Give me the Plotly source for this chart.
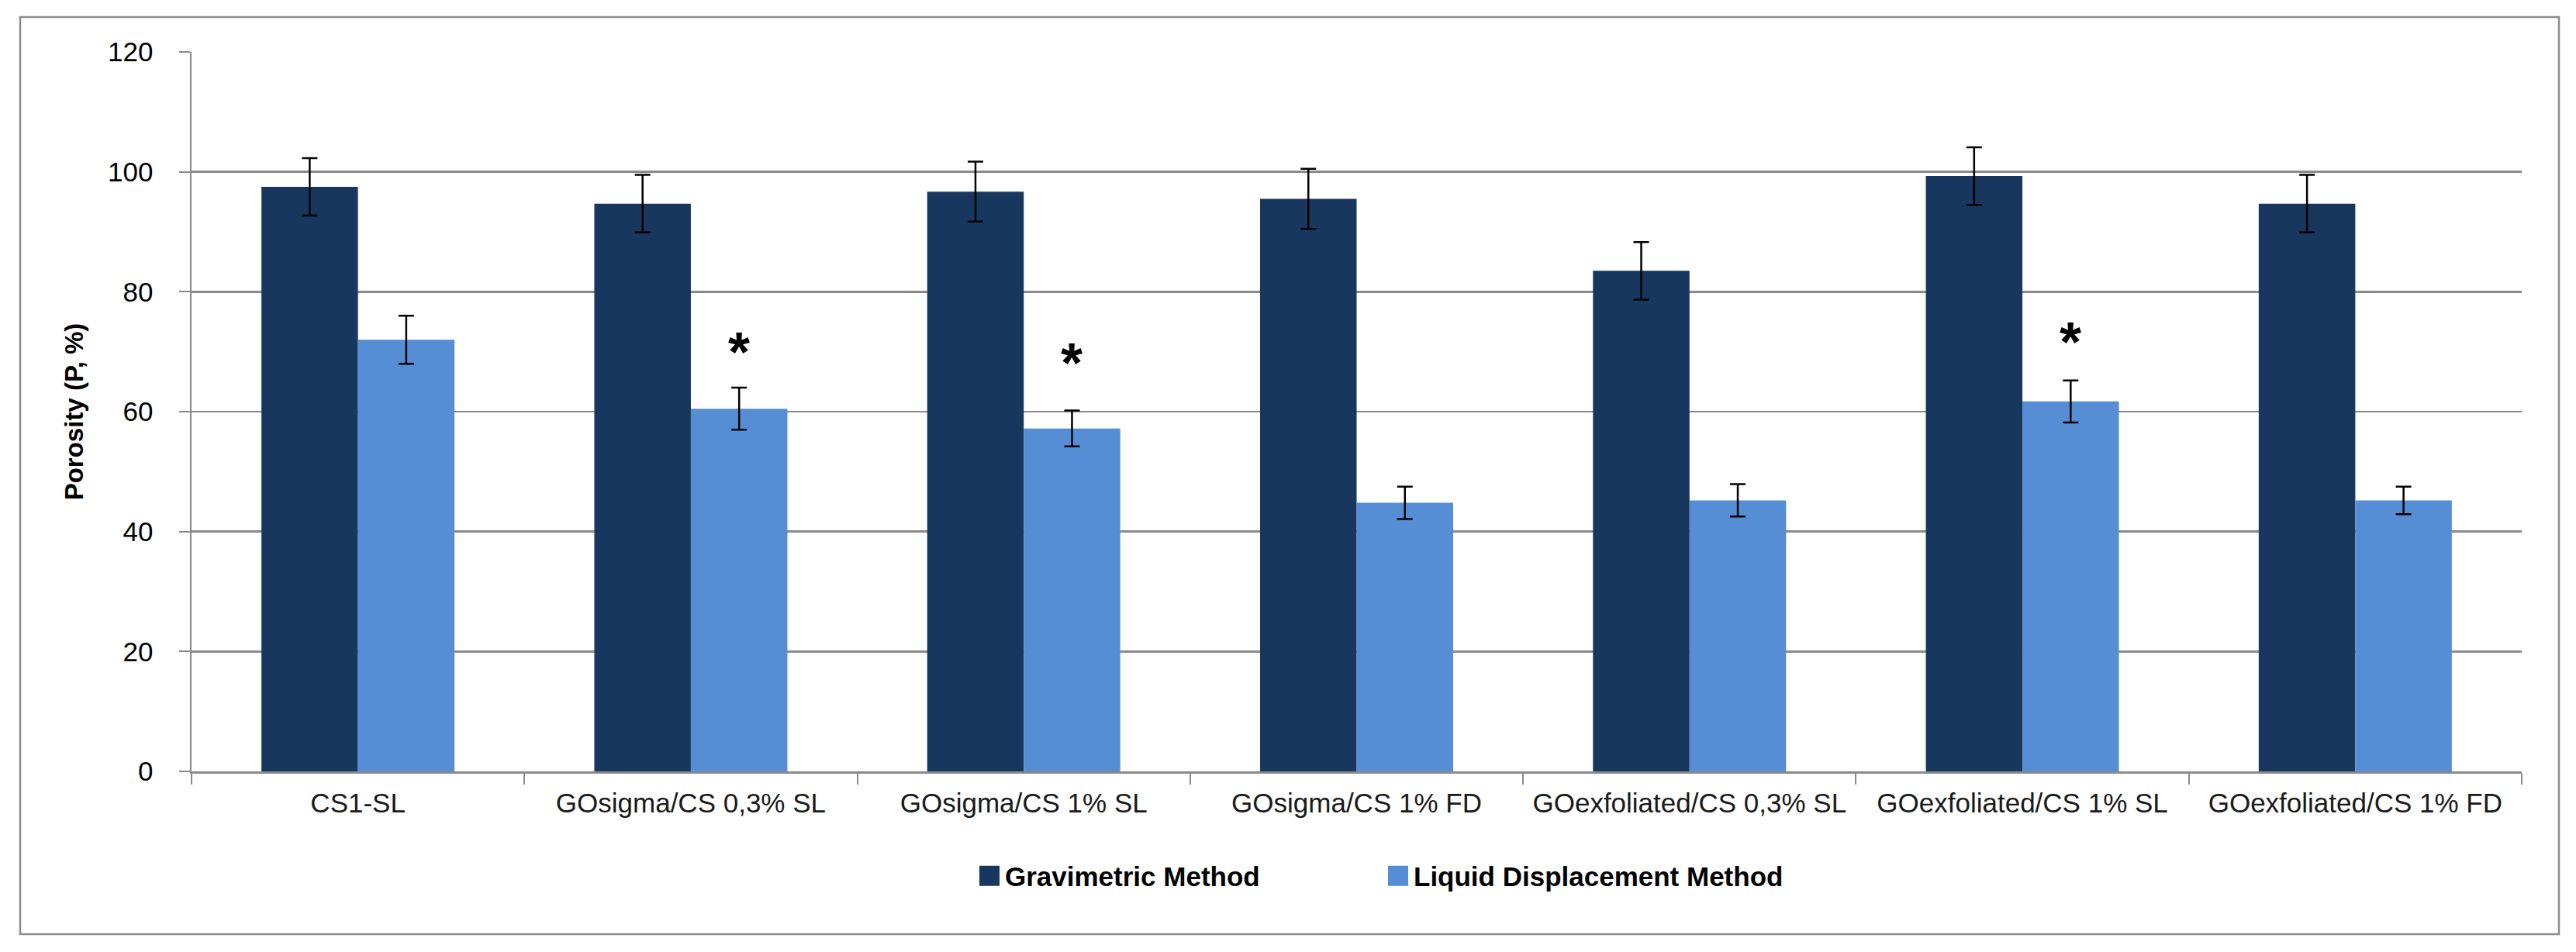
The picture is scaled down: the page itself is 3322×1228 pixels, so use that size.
import plotly.graph_objects as go

categories = ["CS1-SL", "GOsigma/CS 0,3% SL", "GOsigma/CS 1% SL", "GOsigma/CS 1% FD",
              "GOexfoliated/CS 0,3% SL", "GOexfoliated/CS 1% SL", "GOexfoliated/CS 1% FD"]
grav_values = [97.5, 94.7, 96.7, 95.5, 83.5, 99.3, 94.7]
grav_errors = [4.8, 4.8, 5.0, 5.0, 4.8, 4.8, 4.8]
liquid_values = [72.0, 60.5, 57.2, 44.8, 45.2, 61.7, 45.2]
liquid_errors = [4.0, 3.5, 3.0, 2.7, 2.7, 3.5, 2.3]
# height (in % units) of the significance asterisk above the liquid-displacement bars
star_levels = [None, 69.9, 68.2, None, None, 71.7, None]
y_ticks = [0, 20, 40, 60, 80, 100, 120]

W, H = 3322, 1228
ML, MR, MT, MB = 247, 70, 67, 233
BARGAP = 0.42
plot_w = W - ML - MR
plot_h = H - MT - MB
bar_px = plot_w / len(categories) * (1 - BARGAP) / 2

DARK = "#17375E"
LIGHT = "#558ED5"
GRID = "#8A8A8A"
FONT = "Liberation Sans"

fig = go.Figure()
fig.add_trace(go.Bar(
    x=categories, y=grav_values, name="<b>Gravimetric Method</b>",
    marker=dict(color=DARK, line=dict(width=0)),
    error_y=dict(type="data", array=grav_errors, color="black", thickness=2.5, width=10),
))
fig.add_trace(go.Bar(
    x=categories, y=liquid_values, name="<b>Liquid Displacement Method</b>",
    marker=dict(color=LIGHT, line=dict(width=0)),
    error_y=dict(type="data", array=liquid_errors, color="black", thickness=2.5, width=10),
))

for cat, lvl in zip(categories, star_levels):
    if lvl is not None:
        fig.add_annotation(x=cat, y=lvl, text="<b>*</b>", showarrow=False,
                           xshift=bar_px / 2, yanchor="middle",
                           font=dict(family=FONT, size=72, color="black"))

def px_to_paper_x(px):
    return (px - ML) / plot_w

def px_to_paper_y(py):
    return (H - MB - py) / plot_h

# outer chart border
fig.add_shape(type="rect", xref="paper", yref="paper",
              x0=px_to_paper_x(26), x1=px_to_paper_x(3300),
              y0=px_to_paper_y(1205), y1=px_to_paper_y(22),
              line=dict(color="#8C8C8C", width=2.5), fillcolor="rgba(0,0,0,0)", layer="below")

fig.update_layout(
    width=W, height=H,
    margin=dict(l=ML, r=MR, t=MT, b=MB),
    paper_bgcolor="white", plot_bgcolor="white",
    barmode="group", bargap=BARGAP, bargroupgap=0,
    font=dict(family=FONT, color="black"),
    showlegend=True,
    legend=dict(orientation="h", x=px_to_paper_x(1256), xanchor="left",
                y=px_to_paper_y(1130), yanchor="middle",
                font=dict(family=FONT, size=35, color="black"),
                itemwidth=30, entrywidth=482, bgcolor="rgba(0,0,0,0)"),
)
fig.update_xaxes(
    type="category", tickson="boundaries", ticks="outside", ticklen=14, tickwidth=2,
    tickcolor=GRID, showline=True, linecolor=GRID, linewidth=2.5,
    tickfont=dict(family=FONT, size=35, color="#1a1a1a"), showgrid=False,
    ticklabelstandoff=8,
)
fig.update_yaxes(
    range=[0, 120], tickvals=y_ticks, ticks="outside", ticklen=14, tickwidth=2,
    tickcolor=GRID, showline=True, linecolor=GRID, linewidth=2.5,
    showgrid=True, gridcolor=GRID, gridwidth=2.5, zeroline=False,
    tickfont=dict(family=FONT, size=35, color="black"),
    ticklabelstandoff=26,
    title=dict(text="<b>Porosity (P, %)</b>", font=dict(family=FONT, size=33, color="black"),
               standoff=22),
)

post = """
document.body.style.margin = '0';
document.body.style.overflow = 'hidden';
var gd = document.getElementsByClassName('plotly-graph-div')[0];
function bigLegend(){
  gd.querySelectorAll('.legendpoints path').forEach(function(p){
    p.setAttribute('d','M13,13H-13V-13H13Z');
  });
}
bigLegend();
gd.on('plotly_afterplot', bigLegend);
"""
fig.write_html("out.html", post_script=post, config={"displayModeBar": False, "staticPlot": True})
